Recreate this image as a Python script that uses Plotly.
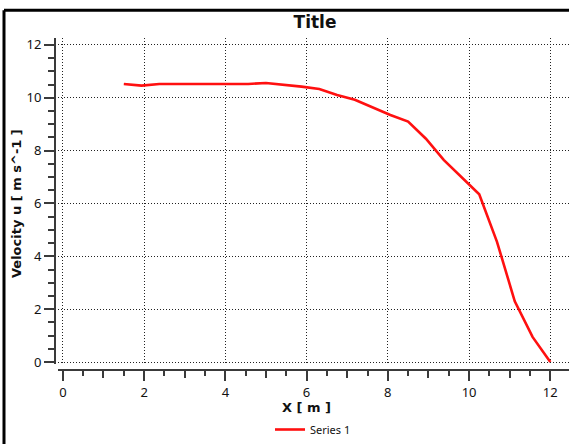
import plotly.graph_objects as go

# ---- data ----
x_m = [1.5, 1.9375, 2.375, 2.8125, 3.25, 3.6875, 4.125, 4.5625, 5.0, 5.4375,
       5.875, 6.3125, 6.75, 7.1875, 7.625, 8.0625, 8.5, 8.9375, 9.375, 9.8125,
       10.25, 10.6875, 11.125, 11.5625, 12.0]
velocity_u = [10.52, 10.46, 10.52, 10.52, 10.52, 10.52, 10.52, 10.52, 10.56, 10.50,
              10.42, 10.33, 10.10, 9.92, 9.63, 9.35, 9.10, 8.45, 7.65, 7.00,
              6.35, 4.55, 2.30, 0.95, 0.0]
series_name = "Series 1"
title_text = "Title"
x_title = "X [ m ]"
y_title = "Velocity u [ m s^-1 ]"
x_ticks = [0, 2, 4, 6, 8, 10, 12]
y_ticks = [0, 2, 4, 6, 8, 10, 12]
x_mid_ticks = [1, 3, 5, 7, 9, 11]

W, H = 569, 444
L, R, T, B = 55, 0, 38, 72
pw, ph = W - L - R, H - T - B

FONT = "Noto Sans"
BOLD_FONT = "DejaVu Sans"
axis_col = "#3a3a3a"

fig = go.Figure()
fig.add_trace(go.Scatter(x=x_m, y=velocity_u, mode="lines", name=series_name,
                         line=dict(color="#ff1010", width=2.6)))
fig.add_trace(go.Scatter(x=[], y=[], xaxis="x2", showlegend=False, hoverinfo="skip"))

xrange = [-0.12, 12.46]
yrange = [-0.075, 12.26]

fig.update_layout(
    width=W, height=H,
    margin=dict(l=L, r=R, t=T, b=B, pad=0),
    paper_bgcolor="white", plot_bgcolor="white",
    font=dict(family=FONT, size=13, color="#111"),
    showlegend=True,
    title=dict(text="<b>" + title_text + "</b>", x=315 / W, xanchor="center",
               y=1 - 22 / H, yanchor="middle",
               font=dict(family=BOLD_FONT, size=17, color="#111")),
    xaxis=dict(domain=[3 / pw, 1], range=xrange, anchor="free", position=0,
               tickvals=x_ticks, ticks="outside", ticklen=10, tickwidth=1.5,
               tickcolor=axis_col, showline=True, linecolor=axis_col, linewidth=2,
               showgrid=True, gridcolor="#222", griddash="1px,2px", gridwidth=1,
               zeroline=False, tickfont=dict(size=13),
               minor=dict(dtick=0.5, ticks="outside", ticklen=5, tickcolor=axis_col,
                          tickwidth=1.5, showgrid=False)),
    xaxis2=dict(overlaying="x", range=xrange, anchor="free", position=0,
                tickvals=x_mid_ticks, ticks="outside", ticklen=7, tickwidth=1.5,
                tickcolor=axis_col, showticklabels=False, showgrid=False,
                showline=False, zeroline=False),
    yaxis=dict(domain=[6 / ph, 1], range=yrange, anchor="free", position=0,
               tickvals=y_ticks, ticks="outside", ticklen=10, tickwidth=1.5,
               tickcolor=axis_col, showline=True, linecolor=axis_col, linewidth=2,
               showgrid=True, gridcolor="#222", griddash="1px,2px", gridwidth=1,
               zeroline=False, tickfont=dict(size=13),
               minor=dict(dtick=0.5, ticks="outside", ticklen=6, tickcolor=axis_col,
                          tickwidth=1.5, showgrid=False)),
    legend=dict(orientation="h", x=(270 - L) / pw, xanchor="left",
                y=-(432 - (H - B)) / ph, yanchor="middle",
                font=dict(size=11, color="#111"), bgcolor="rgba(0,0,0,0)",
                tracegroupgap=0),
)

# axis titles
fig.add_annotation(text="<b>" + x_title + "</b>", xref="paper", yref="paper",
                   x=(306 - L) / pw, y=-(410 - (H - B)) / ph, showarrow=False,
                   xanchor="center", yanchor="middle",
                   font=dict(family=BOLD_FONT, size=13, color="#111"))
fig.add_annotation(text="<b>" + y_title + "</b>", xref="paper", yref="paper",
                   x=(16 - L) / pw, y=((H - B) - 205) / ph, showarrow=False, textangle=-90,
                   xanchor="center", yanchor="middle",
                   font=dict(family=BOLD_FONT, size=13, color="#111"))

# outer frame (top and left edges visible)
top_y = ((H - B) - 10) / ph
left_x = (4 - L) / pw
fig.add_shape(type="line", xref="paper", yref="paper", x0=left_x, x1=1.05, y0=top_y, y1=top_y,
              line=dict(color="black", width=3))
fig.add_shape(type="line", xref="paper", yref="paper", x0=left_x, x1=left_x, y0=top_y, y1=-0.3,
              line=dict(color="black", width=3))

fig.write_html("out.html", config={"displayModeBar": False},
               post_script="document.body.style.margin='0';document.body.style.overflow='hidden';")
